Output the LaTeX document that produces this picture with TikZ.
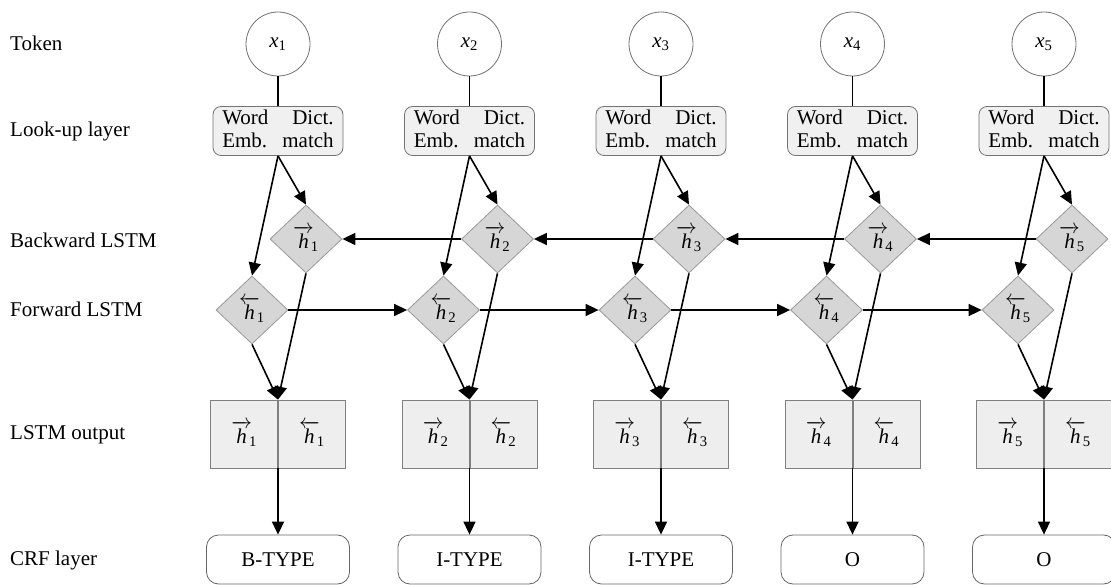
\documentclass[tikz,border=0pt]{standalone}
\usepackage{amsmath}
\usepackage{fontspec}
\setmainfont{Liberation Serif}
\usetikzlibrary{shapes.geometric,arrows.meta}
\newcommand{\myvr}[1]{\(\overrightarrow{\kern2.5pt\textit{h}\kern2.5pt}\kern-3pt_{\text{#1}}\)}
\newcommand{\myvl}[1]{\(\overleftarrow{\kern2.5pt\textit{h}\kern2.5pt}\kern-3pt_{\text{#1}}\)}
\begin{document}
\begin{tikzpicture}[x=1pt,y=-1pt,
  every node/.style={font=\fontsize{21}{24}\selectfont},
  lbl/.style={anchor=west,inner sep=0pt},
  tok/.style={circle,draw=black!55,line width=0.8pt,minimum size=64pt,inner sep=0pt},
  look/.style={rectangle,rounded corners=8pt,draw=black!55,line width=0.8pt,fill=gray!12,minimum width=130pt,minimum height=49pt,inner sep=0pt},
  dia/.style={diamond,draw=black!40,line width=0.8pt,fill=gray!32,minimum width=72pt,minimum height=68pt,inner sep=0pt},
  half/.style={rectangle,draw=black!50,line width=0.8pt,fill=gray!13,minimum width=67pt,minimum height=68pt,inner sep=0pt},
  crf/.style={rectangle,rounded corners=12pt,draw=black!60,line width=0.8pt,minimum width=143pt,minimum height=49pt,inner sep=0pt},
  conn/.style={line width=1.6pt},
  arr/.style={conn,-{Triangle[length=13pt,width=12pt]}},
]
\useasboundingbox[fill=white] (0,0) rectangle (1111,585);

\node[lbl] (lt) at (10,43) {Token};
\node[lbl] (ll) at (10,131) {Look-up layer};
\node[lbl] (lb) at (10,240) {Backward LSTM};
\node[lbl] (lf) at (10,309) {Forward LSTM};
\node[lbl] (lo) at (10,435) {LSTM output};
\node[lbl] (lc) at (10,560) {CRF layer};

\foreach \i/\lab in {1/B-TYPE,2/I-TYPE,3/I-TYPE,4/O,5/O}{
  \pgfmathsetmacro{\cx}{278+191.5*(\i-1)}
  \node[tok] (t\i) at (\cx,44) {\(\textit{x}_{\text{\i}}\)};
  \node[look] (k\i) at (\cx,131) {\begin{tabular}{@{}l@{\hspace{14pt}}r@{}}Word & Dict.\\[-1pt] Emb. & match\end{tabular}};
  \node[dia] (b\i) at (\cx+28,239) {\myvr{\i}};
  \node[dia] (f\i) at (\cx-26,310) {\myvl{\i}};
  \node[half,anchor=east] (L\i) at (\cx,434) {\myvr{\i}};
  \node[half,anchor=west] (R\i) at (\cx,434) {\myvl{\i}};
  \node[crf] (c\i) at (\cx,559.5) {\lab};
  \draw[conn] (t\i.south) -- (k\i.north);
  \draw[arr] (k\i.south) -- (b\i.north);
  \draw[arr] (k\i.south) -- (f\i.north);
  \draw[arr] (f\i.south) -- (L\i.north east);
  \draw[arr] (b\i.south) -- (L\i.north east);
  \draw[arr] (L\i.south east) -- (c\i.north);
}
\foreach \i in {1,...,4}{
  \pgfmathtruncatemacro{\j}{\i+1}
  \draw[arr] (b\j.west) -- (b\i.east);
  \draw[arr] (f\i.east) -- (f\j.west);
}
\end{tikzpicture}
\end{document}
